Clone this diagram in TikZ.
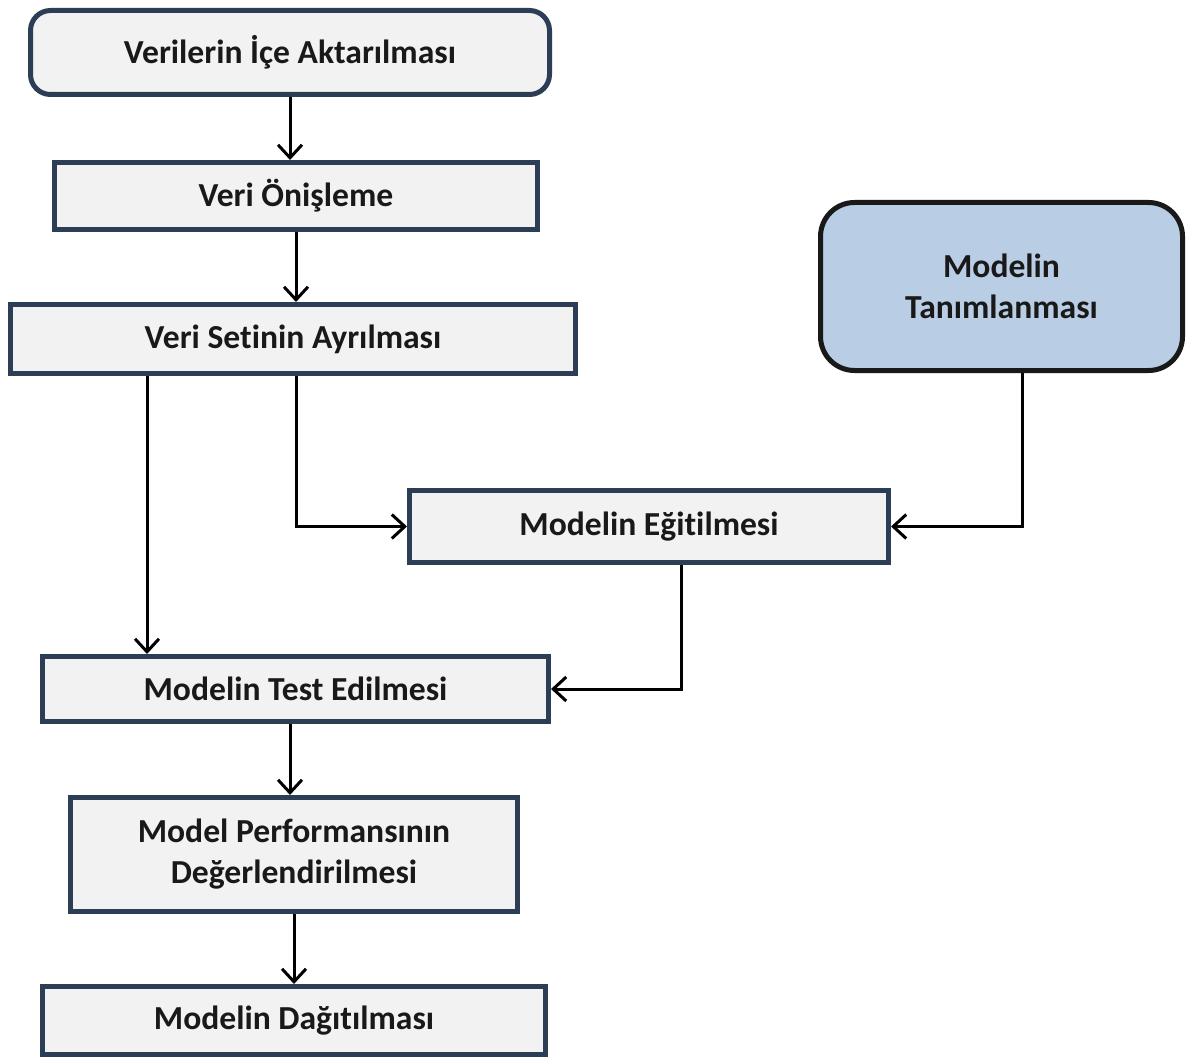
\documentclass[tikz,border=0pt]{standalone}
\usepackage{fontspec}
\setmainfont{Carlito}[Ligatures={NoCommon,NoRequired}]
\usetikzlibrary{arrows.meta}
\definecolor{boxline}{HTML}{2B3E55}
\definecolor{boxfill}{HTML}{F2F2F2}
\definecolor{defnfill}{HTML}{B9CDE5}
\begin{document}
\begin{tikzpicture}[x=0.5pt,y=-0.5pt,
        stage/.style={draw=boxline,fill=boxfill,line width=2.5pt,inner sep=0pt,
            align=center,text=black!90,font=\fontsize{16.8}{20.5}\selectfont\bfseries},
        flow/.style={line width=1.5pt,-{Straight Barb[length=6.5pt,width=12pt,line width=1.5pt]}}]
            \useasboundingbox (0,0) rectangle (1187,1059);
            \node [stage,rounded corners=10pt,minimum width=259.5pt,minimum height=42pt] (import) at (290,52.5) {Verilerin İçe Aktarılması};
            \node [stage,minimum width=241.5pt,minimum height=33.5pt] (prep) at (296,196) {Veri Önişleme};
            \node [stage,minimum width=282.5pt,minimum height=34.5pt] (split) at (293,339) {Veri Setinin Ayrılması};
            \node [stage,draw=black!90,fill=defnfill,rounded corners=17pt,minimum width=181pt,minimum height=84pt] (define) at (1001.5,286.5) {Modelin\\Tanımlanması};
            \node [stage,minimum width=239.5pt,minimum height=36pt] (train) at (649,526.5) {Modelin Eğitilmesi};
            \node [stage,minimum width=253pt,minimum height=32.5pt] (test) at (295.5,689) {Modelin Test Edilmesi};
            \node [stage,minimum width=223.5pt,minimum height=57pt] (eval) at (294,854.5) {Model Performansının\\Değerlendirilmesi};
            \node [stage,minimum width=251.5pt,minimum height=34pt] (deploy) at (294,1020.5) {Modelin Dağıtılması};
            % ana akis
            \draw [flow] (import.south) -- (import.south |- prep.north);
            \draw [flow] (prep.south) -- (prep.south |- split.north);
            \draw [flow] ([xshift=-73pt]split.south) -- ([xshift=-73pt]split.south |- test.north);
            \draw [flow] ([xshift=1.5pt]split.south) |- (train.west);
            \draw [flow] ([xshift=10.25pt]define.south) |- (train.east);
            \draw [flow] ([xshift=16pt]train.south) |- (test.east);
            \draw [flow] ([xshift=-2.75pt]test.south) -- ([xshift=-2.75pt]test.south |- eval.north);
            \draw [flow] (eval.south) -- (eval.south |- deploy.north);
        \end{tikzpicture}
\end{document}
